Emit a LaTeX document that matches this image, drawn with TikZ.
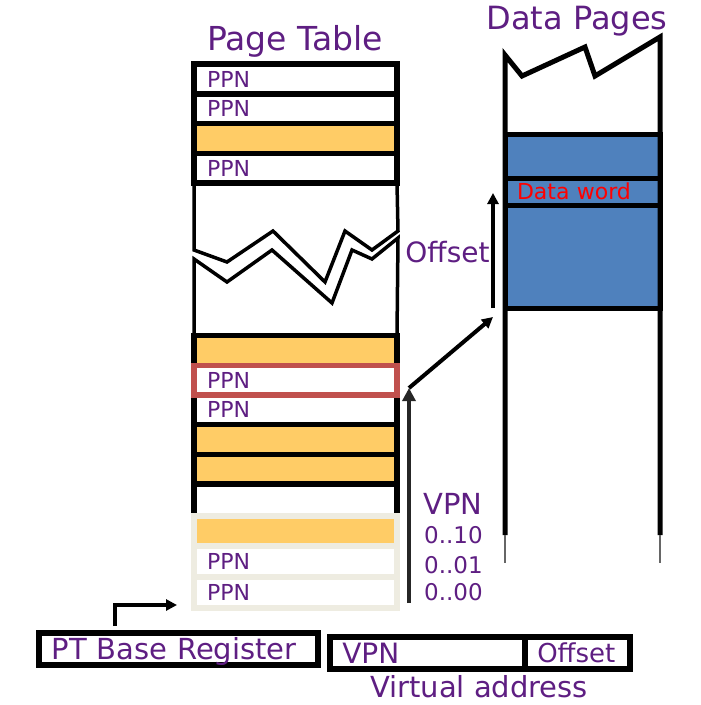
\documentclass[tikz,border=0pt]{standalone}
\usepackage{fontspec}
\setmainfont{DejaVu Sans}
\usetikzlibrary{arrows.meta,positioning}
\definecolor{ptpurple}{HTML}{5E1E82}
\definecolor{ptorange}{HTML}{FFCC66}
\definecolor{ptred}{HTML}{C0504D}
\definecolor{ptgray}{HTML}{EEECE1}
\definecolor{dpblue}{HTML}{4F81BD}
\definecolor{dwred}{HTML}{FF0000}
\newcommand{\fsz}[1]{\fontsize{#1}{#1}\selectfont}
\tikzset{
  ptcell/.style={draw=black,line width=5.5pt,outer sep=0pt,inner sep=0pt,
    minimum width=203pt,minimum height=29.7pt,text width=177pt,align=left,
    font={\fsz{22}},text=ptpurple},
  ptppn/.style={ptcell,fill=white},
  ptorg/.style={ptcell,fill=ptorange},
  ptlight/.style={ptcell,draw=ptgray,line width=6pt,minimum height=30.7pt},
  dpcell/.style={draw=black,line width=5pt,outer sep=0pt,inner sep=0pt,
    minimum width=155pt,fill=dpblue},
  brk/.style={line width=3.5pt},
  ptarrow/.style={-{Triangle[length=13pt,width=13pt]},line width=3.5pt},
  smarrow/.style={-{Triangle[length=11pt,width=11pt]},line width=4pt},
  lbl/.style={text=ptpurple,inner sep=0pt},
  vabox/.style={draw=black,line width=6pt,outer sep=0pt,inner sep=0pt,
    minimum height=32pt,text=ptpurple,align=left,text depth=0pt},
}
\begin{document}
\begin{tikzpicture}[x=1pt,y=-1pt]
\useasboundingbox (0,0) rectangle (701,705);
% page table, upper part
\node[lbl,font={\fsz{33}}] (pttitle) at (295,41) {Page Table};
\node[ptppn] (r1) at (295.5,79) {PPN};
\node[ptppn,below=0pt of r1] (r2) {PPN};
\node[ptorg,below=0pt of r2] (r3) {};
\node[ptppn,below=0pt of r3] (r4) {PPN};
\draw[brk] (r4.south west) -- (194,250) -- (227,262) -- (273,231) -- (325,282)
  -- (345,231) -- (372,250) -- (398,231) -- (r4.south east);
% page table, lower part
\node[ptorg] (l1) at (295.5,350.4) {};
\node[ptppn,below=0pt of l1] (l2) {PPN};
\node[ptppn,below=0pt of l2] (l3) {PPN};
\node[ptorg,below=0pt of l3] (l4) {};
\node[ptorg,below=0pt of l4] (l5) {};
\draw[brk] (l1.north west) -- (194,259) -- (227,282) -- (272,250) -- (332,303)
  -- (352,250) -- (372,259) -- (398,238) -- (l1.north east);
\draw[line width=5.5pt] (l5.south west) -- ++(0,30);
\draw[line width=5.5pt] (l5.south east) -- ++(0,30);
\node[ptlight,fill=ptorange] (g1) at (295.5,531) {};
\node[ptlight,fill=white,below=0pt of g1] (g2) {PPN};
\node[ptlight,fill=white,below=0pt of g2] (g3) {PPN};
\draw[ptred,line width=5.5pt] (l2.south west) rectangle (l2.north east);
% data pages
\node[lbl,font={\fsz{32}}] (dptitle) at (577,21) {Data Pages};
\node[dpcell,minimum height=174pt] (blk) at (582.5,221.5) {};
\node[dpcell,minimum height=26.5pt,text width=131pt,align=left,
  text=dwred,font={\fsz{22}}] (dw) at (582.5,191.75) {Data word};
\draw[line width=5pt] (505,535) -- (505,55) -- (522,76) -- (585,47) -- (595,76)
  -- (660,37) -- (660,535);
\draw[black!60,line width=1.5pt] (505,535) -- (505,563);
\draw[black!60,line width=1.5pt] (660,535) -- (660,563);
% labels
\node[lbl,font={\fsz{28}}] (ofslbl) at (447.5,252) {Offset};
\node[lbl,font={\fsz{29}},anchor=west] (vpnlbl) at (423,504) {VPN};
\node[lbl,font={\fsz{23}},anchor=west] (n2) at (424,535) {0..10};
\node[lbl,font={\fsz{23}},anchor=west] (n1) at (424,565) {0..01};
\node[lbl,font={\fsz{23}},anchor=west] (n0) at (424,592) {0..00};
% registers
\node[vabox,minimum width=279pt,text width=253pt,font={\fsz{29}}] (ptb)
  at (178.5,648.5) {PT Base Register};
\node[vabox,minimum width=194.5pt,text width=170pt,font={\fsz{28}}] (vavpn)
  at (427.25,653) {VPN};
\node[vabox,minimum width=105.5pt,text width=80pt,font={\fsz{26}},right=0pt of vavpn]
  (vaofs) {Offset};
\node[lbl,font={\fsz{29}}] (valbl) at (479,687) {Virtual address};
% arrows
\coordinate (vpnfoot) at (409,603);
\coordinate (vpntip) at (409,388);
\coordinate (diagtip) at (493,317);
\coordinate (ofsfoot) at (493,308);
\coordinate (ofstip) at (493,193);
\coordinate (basetap) at (115,626);
\coordinate (basetip) at (177,605);
\draw[ptarrow,black!85] (vpnfoot) -- (vpntip);
\draw[smarrow] (vpntip) -- (diagtip);
\draw[smarrow] (ofsfoot) -- (ofstip);
\draw[smarrow] (basetap) |- (basetip);
\end{tikzpicture}
\end{document}
